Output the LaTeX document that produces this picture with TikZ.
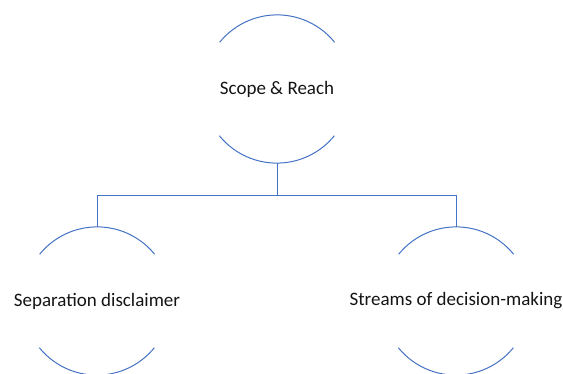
\documentclass[tikz,border=0pt]{standalone}
\usepackage{fontspec}
\setmainfont{Carlito}
\definecolor{lineblue}{RGB}{68,114,196}
\definecolor{txt}{RGB}{20,20,20}
\begin{document}
\begin{tikzpicture}[x=1pt,y=1pt,
  ring/.style={circle,minimum size=148pt,inner sep=0pt},
  lbl/.style={font=\fontsize{19}{23}\selectfont,text=txt,inner sep=0pt},
  conn/.style={draw=lineblue,line width=1pt},
  arcs/.style={draw=lineblue,line width=1pt}]
\useasboundingbox (0,0) rectangle (563,373);
\node[ring] (top) at (277,284) {};
\node[ring] (left) at (97,72) {};
\node[ring] (right) at (456,72) {};
\node[lbl] (toptext) at (top.center) {Scope \& Reach};
\node[lbl] (lefttext) at (left.center) {Separation disclaimer};
\node[lbl] (righttext) at (right.center) {Streams of decision-making};
\foreach \n in {top,left,right}{
  \draw[arcs] (\n.39) arc (39:141:74);
  \draw[arcs] (\n.219) arc (219:321:74);
}
\coordinate (j) at (277,178);
\draw[conn] (top.south) -- (j) -| (left.north);
\draw[conn] (j) -| (right.north);
\end{tikzpicture}
\end{document}
